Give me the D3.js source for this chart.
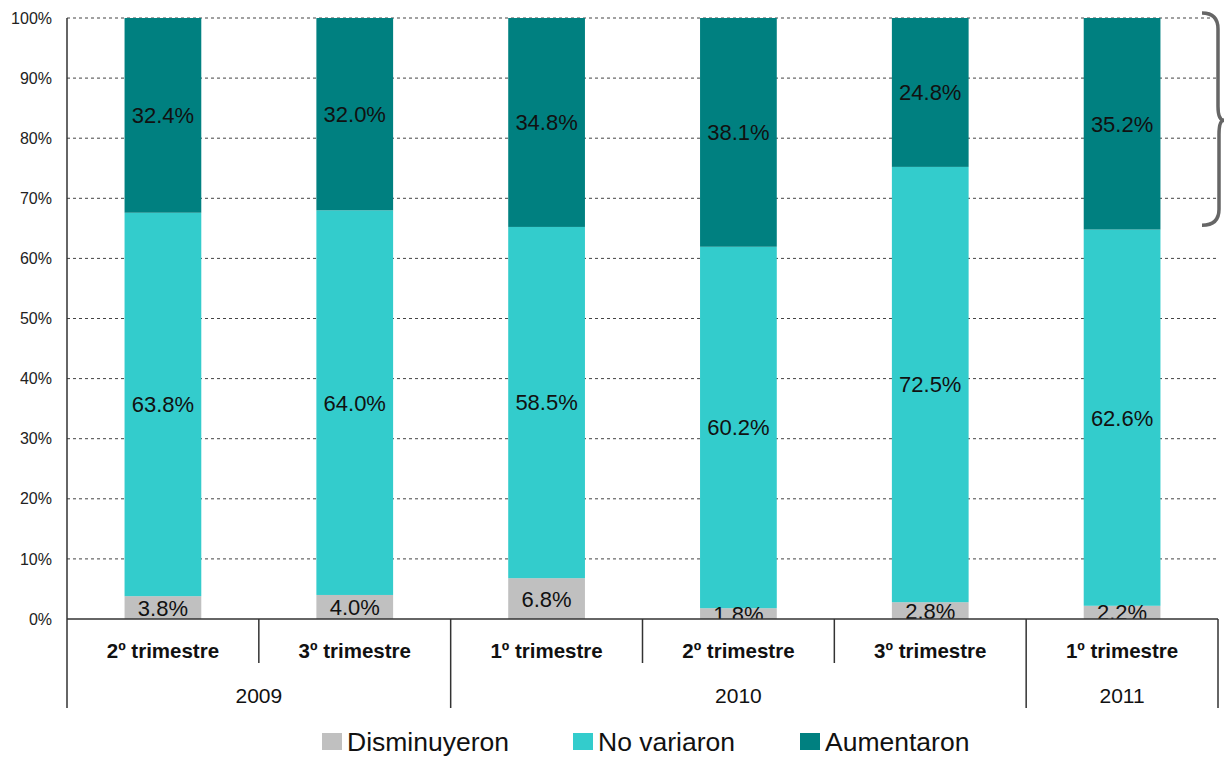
<!DOCTYPE html>
<html>
<head>
<meta charset="utf-8">
<script src="https://cdn.jsdelivr.net/npm/d3@7"></script>
<style>
  body { margin: 0; background: #fff; }
  text { font-family: "Liberation Sans", Arial, sans-serif; }
</style>
</head>
<body>
<div id="chart"></div>
<script>
//Data
let quarters = ["2º trimestre", "3º trimestre", "1º trimestre", "2º trimestre", "3º trimestre", "1º trimestre"];
let years = [
  { year: "2009", from: 0, to: 2 },
  { year: "2010", from: 2, to: 5 },
  { year: "2011", from: 5, to: 6 }
];
let seriesNames = ["Disminuyeron", "No variaron", "Aumentaron"];
let disminuyeron = [3.8, 4.0, 6.8, 1.8, 2.8, 2.2];
let noVariaron = [63.8, 64.0, 58.5, 60.2, 72.5, 62.6];
let aumentaron = [32.4, 32.0, 34.8, 38.1, 24.8, 35.2];
let yTicks = [0, 0.1, 0.2, 0.3, 0.4, 0.5, 0.6, 0.7, 0.8, 0.9, 1];

let colors = ["#C0C0C0", "#33CCCC", "#008080"];

//Size of the SVG and the plot area
let svgWidth = 1226;
let svgHeight = 757;
let margin = { top: 18, left: 67, right: 8, bottom: 138 };
let width = svgWidth - margin.left - margin.right;
let height = svgHeight - margin.top - margin.bottom;

let svg = d3.select("#chart")
  .append("svg")
  .attr("width", svgWidth)
  .attr("height", svgHeight);

let chartGroup = svg.append("g")
  .attr("transform", `translate(${margin.left}, ${margin.top})`);

//Rows for the stack
let rows = quarters.map((q, i) => ({
  idx: i,
  "Disminuyeron": disminuyeron[i],
  "No variaron": noVariaron[i],
  "Aumentaron": aumentaron[i]
}));

let stacked = d3.stack()
  .keys(seriesNames)
  .offset(d3.stackOffsetExpand)(rows);

//Scales
let xScale = d3.scaleBand()
  .domain(d3.range(quarters.length))
  .range([0, width])
  .paddingInner(0.6)
  .paddingOuter(0.3);

let yScale = d3.scaleLinear()
  .domain([0, 1])
  .range([height, 0]);

//Dashed gridlines
chartGroup.append("g")
  .selectAll("line")
  .data(yTicks.slice(1))
  .enter()
  .append("line")
  .attr("x1", 0)
  .attr("x2", width)
  .attr("y1", d => yScale(d))
  .attr("y2", d => yScale(d))
  .attr("stroke", "#444")
  .attr("stroke-width", 1)
  .attr("stroke-dasharray", "3,3");

//Left axis with percent labels
let leftAxis = d3.axisLeft(yScale)
  .tickValues(yTicks)
  .tickFormat(d3.format(".0%"))
  .tickSize(0)
  .tickPadding(15);

let yAxisG = chartGroup.append("g").call(leftAxis);
yAxisG.select(".domain").remove();
yAxisG.selectAll("text")
  .style("font-size", "16px")
  .style("fill", "#222");

//Bars
svg.append("clipPath").attr("id", "plotClip")
  .append("rect").attr("width", width).attr("height", height);

let layers = chartGroup.selectAll(".layer")
  .data(stacked)
  .enter()
  .append("g")
  .attr("class", "layer")
  .attr("fill", (d, i) => colors[i]);

layers.selectAll("rect")
  .data(d => d)
  .enter()
  .append("rect")
  .attr("x", d => xScale(d.data.idx))
  .attr("width", xScale.bandwidth())
  .attr("y", d => yScale(d[1]))
  .attr("height", d => yScale(d[0]) - yScale(d[1]));

//Data labels in the middle of each segment
let labelGroup = chartGroup.append("g").attr("clip-path", "url(#plotClip)");
stacked.forEach(layer => {
  labelGroup.selectAll(null)
    .data(layer)
    .enter()
    .append("text")
    .attr("x", d => xScale(d.data.idx) + xScale.bandwidth() / 2)
    .attr("y", d => yScale((d[0] + d[1]) / 2))
    .attr("dy", "0.36em")
    .style("font-size", "22px")
    .style("text-anchor", "middle")
    .style("fill", "#111")
    .text(d => d.data[layer.key].toFixed(1) + "%");
});

//Axis lines
chartGroup.append("line")
  .attr("x1", 0).attr("x2", 0)
  .attr("y1", 0).attr("y2", height + 89)
  .attr("stroke", "#333").attr("stroke-width", 1.5);
chartGroup.append("line")
  .attr("x1", 0).attr("x2", width)
  .attr("y1", height).attr("y2", height)
  .attr("stroke", "#333").attr("stroke-width", 1.5);

//Separators between the categories
let step = xScale.step();
let bounds = d3.range(1, quarters.length + 1);
let yearEnds = years.map(d => d.to);
chartGroup.selectAll(".sep")
  .data(bounds)
  .enter()
  .append("line")
  .attr("x1", d => d * step)
  .attr("x2", d => d * step)
  .attr("y1", height)
  .attr("y2", d => yearEnds.includes(d) ? height + 89 : height + 44)
  .attr("stroke", "#333")
  .attr("stroke-width", 1.5);

//Quarter labels
chartGroup.selectAll(".qlabel")
  .data(quarters)
  .enter()
  .append("text")
  .attr("x", (d, i) => xScale(i) + xScale.bandwidth() / 2)
  .attr("y", height + 39)
  .style("font-size", "20.5px")
  .style("font-weight", "bold")
  .style("text-anchor", "middle")
  .style("fill", "#111")
  .text(d => d);

//Year labels
chartGroup.selectAll(".ylabel")
  .data(years)
  .enter()
  .append("text")
  .attr("x", d => (d.from + d.to) / 2 * step)
  .attr("y", height + 84)
  .style("font-size", "21px")
  .style("text-anchor", "middle")
  .style("fill", "#111")
  .text(d => d.year);

//Brace on the right side
let bx = width;
let yTop = yScale(1) - 5;
let yMid = yScale(0.83);
let yBot = yScale(0.65) - 3;
let bracePath = d3.path();
bracePath.moveTo(bx - 16, yTop);
bracePath.quadraticCurveTo(bx, yTop, bx, yTop + 16);
bracePath.lineTo(bx, yMid - 14);
bracePath.quadraticCurveTo(bx, yMid, bx + 6, yMid);
bracePath.quadraticCurveTo(bx + 1, yMid, bx + 1, yMid + 14);
bracePath.lineTo(bx + 1, yBot - 16);
bracePath.quadraticCurveTo(bx + 1, yBot, bx - 16, yBot);
svg.append("path")
  .attr("transform", `translate(${margin.left}, ${margin.top})`)
  .attr("d", bracePath.toString())
  .attr("fill", "none")
  .attr("stroke", "#666")
  .attr("stroke-width", 3.5);

//Legend
let legendX = [322, 573, 800];
let legend = svg.append("g")
  .selectAll("g")
  .data(seriesNames)
  .enter()
  .append("g")
  .attr("transform", (d, i) => `translate(${legendX[i]}, 733)`);
legend.append("rect")
  .attr("width", 20)
  .attr("height", 17)
  .attr("fill", (d, i) => colors[i]);
legend.append("text")
  .attr("x", 25)
  .attr("y", 18)
  .style("font-size", "26.5px")
  .style("fill", "#111")
  .text(d => d);
</script>
</body>
</html>
